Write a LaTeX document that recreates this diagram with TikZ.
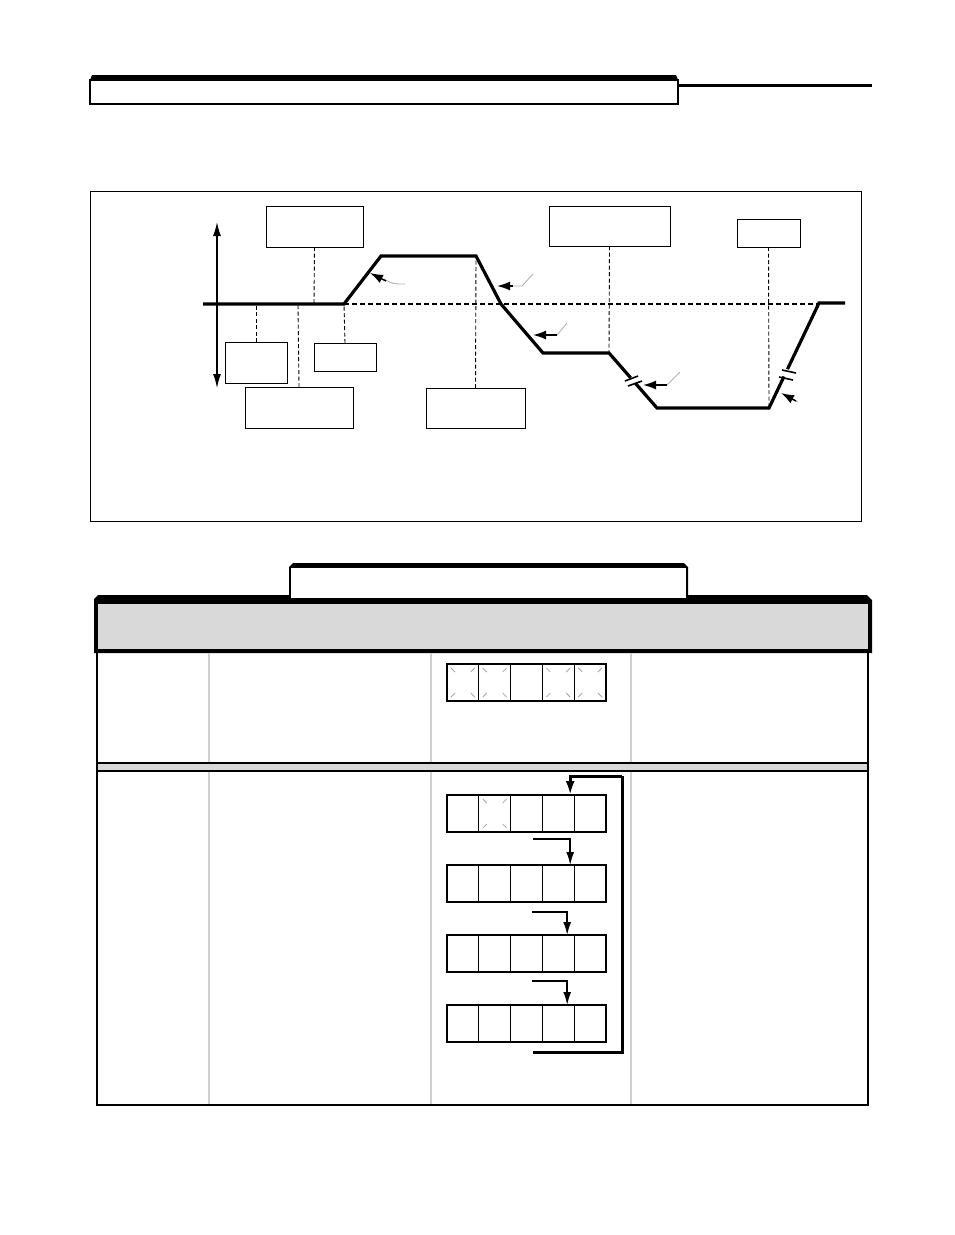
\documentclass[tikz,border=0pt]{standalone}
\usetikzlibrary{arrows.meta,calc}
\definecolor{headgray}{HTML}{D9D9D9}
\definecolor{sepgray}{HTML}{D0D0D0}
\newcommand\blinkit[1]{%
 \draw[tick] ([shift={(4,4)}]#1.north west) -- ++(4,4);
 \draw[tick] ([shift={(-4,4)}]#1.north east) -- ++(-4,4);
 \draw[tick] ([shift={(4,-4)}]#1.south west) -- ++(4,-4);
 \draw[tick] ([shift={(-4,-4)}]#1.south east) -- ++(-4,-4);}
\begin{document}
\begin{tikzpicture}[x=1pt,y=-1pt,
 box/.style={draw, line width=1pt, inner sep=0, outer sep=0, anchor=north west},
 lead/.style={dash pattern=on 4pt off 2.5pt, line width=0.9pt},
 profile/.style={line width=3.2pt, line join=miter},
 cellbox/.style={draw, line width=1.3pt, minimum width=31.8pt, minimum height=37pt, inner sep=0, outer sep=0, anchor=north west},
 tick/.style={gray!70, line width=0.8pt},
 flow/.style={line width=1.6pt, -{Latex[length=13pt,width=8pt]}},
 fb/.style={line width=3pt},
 gleader/.style={gray!60, line width=0.9pt},
 head/.style={line width=1.5pt, -{Latex[length=13pt,width=9pt]}},
 brk/.style={line width=1.6pt}]
\useasboundingbox (0,0) rectangle (954,1235);
% ---------- header ----------
\fill[black] (90,80) -- (92,75) -- (676,75) -- (678,80) -- cycle;
\draw[line width=1.2pt] (90,80) rectangle (678,104);
\draw[line width=3pt] (678,85) -- (872,85);
% ---------- chart ----------
\draw[line width=0.8pt] (90,191) rectangle (861,521);
\draw[line width=1.3pt, {Latex[length=14pt,width=8pt]}-{Latex[length=14pt,width=8pt]}] (217,388) -- (217,222);
\draw[dash pattern=on 5pt off 3pt, line width=1.5pt] (344,304) -- (820,304);
% profile points
\coordinate (p0) at (203,304);
\coordinate (p1) at (344,304);
\coordinate (p2) at (381,256);
\coordinate (p3) at (476,256);
\coordinate (p4) at (501,304);
\coordinate (p5) at (543,353);
\coordinate (p6) at (609,353);
\coordinate (p7) at (657,408);
\coordinate (p8) at (769,408);
\coordinate (p9) at (819,303);
\coordinate (p10) at (845,303);
\coordinate (qA) at (314,304);
\coordinate (qB) at (256,304);
\coordinate (qD) at (298,304);
\draw[profile] (p0) -- (p1) -- (p2) -- (p3) -- (p4) -- (p5) -- (p6) -- ($(p6)!0.45!(p7)$);
\draw[profile] ($(p6)!0.55!(p7)$) -- (p7) -- (p8) -- ($(p8)!0.30!(p9)$);
\draw[profile] ($(p8)!0.37!(p9)$) -- (p9) -- (p10);
% break marks
\draw[brk] (625,381) -- (638,376);
\draw[brk] (628,386) -- (642,381);
\draw[brk] (782,370) -- (796,373);
\draw[brk] (779,377) -- (793,380);
% boxes
\node[box, minimum width=97pt, minimum height=41pt] (A) at (266,206) {};
\node[box, minimum width=62pt, minimum height=41pt] (B) at (225,342) {};
\node[box, minimum width=62pt, minimum height=28pt] (C) at (314,343) {};
\node[box, minimum width=108pt, minimum height=41pt] (D) at (245,387) {};
\node[box, minimum width=99pt, minimum height=40pt] (E) at (426,388) {};
\node[box, minimum width=121pt, minimum height=40pt] (F) at (549,206) {};
\node[box, minimum width=63pt, minimum height=28pt] (G) at (737,219) {};
\draw[lead] (A.south) -- (qA);
\draw[lead] (B.north) -- (qB);
\draw[lead] (C.north) -- (p1);
\draw[lead] (D.north) -- (qD);
\draw[lead] (E.north) -- (p3);
\draw[lead] (F.south) -- (p6);
\draw[lead] (G.south) -- (p8);
% pointer arrows
\draw[gleader] (405,284) .. controls (393,284) .. (384,279);
\draw[head] (386,281) -- (370,273);
\draw[gleader] (533,274) -- (522,286) -- (510,286);
\draw[head] (513,286) -- (497,286);
\draw[gleader] (567,323) -- (557,335);
\draw[head] (557,335) -- (533,335);
\draw[gleader] (680,372) -- (667,385);
\draw[head] (667,385) -- (643,385);
\draw[gleader] (798,402) -- (792,399);
\draw[head] (796,401) -- (781,393);
% ---------- table ----------
\fill[black] (94,599) -- (98,595) -- (867,595) -- (872,600) -- (872,653) -- (94,653) -- cycle;
\fill[headgray] (98,604) rectangle (868,649);
\fill[black] (289,599) -- (289,567) -- (293,563) -- (684,563) -- (688,567) -- (688,599) -- cycle;
\fill[white] (291,568) rectangle (686,598);
\foreach \xx in {209,431,631} \draw[sepgray, line width=2.5pt] (\xx,653) -- (\xx,1104);
\fill[headgray] (98,764) rectangle (867,770);
\draw[line width=1.2pt] (97,763) -- (868,763);
\draw[line width=1.2pt] (97,771) -- (868,771);
\draw[line width=2pt] (97,653) -- (97,1105) -- (868,1105) -- (868,653);
% displays
\foreach \rr/\yy in {1/664,2/795,3/865,4/935,5/1005}{
 \foreach \cc in {1,...,5}{
  \node[cellbox] (d\rr c\cc) at ({447+(\cc-1)*31.8},\yy) {};
 }
}
\blinkit{d1c1}\blinkit{d1c2}\blinkit{d1c4}\blinkit{d1c5}\blinkit{d2c2}
\coordinate (s3) at (533,839);
\coordinate (s4) at (532,912);
\coordinate (s5) at (532,981);
\coordinate (lb) at (533,1052);
\coordinate (lt) at (622,776);
\draw[flow] (s3) -| ([xshift=-4pt]d3c4.north east);
\draw[flow] (s4) -| ([xshift=-7pt]d4c4.north east);
\draw[flow] (s5) -| ([xshift=-7pt]d5c4.north east);
\draw[fb] (lb) -| (lt);
\draw[fb, -{Latex[length=14pt,width=9pt]}] (lt) -| ([xshift=-4pt]d2c4.north east);
\end{tikzpicture}
\end{document}
